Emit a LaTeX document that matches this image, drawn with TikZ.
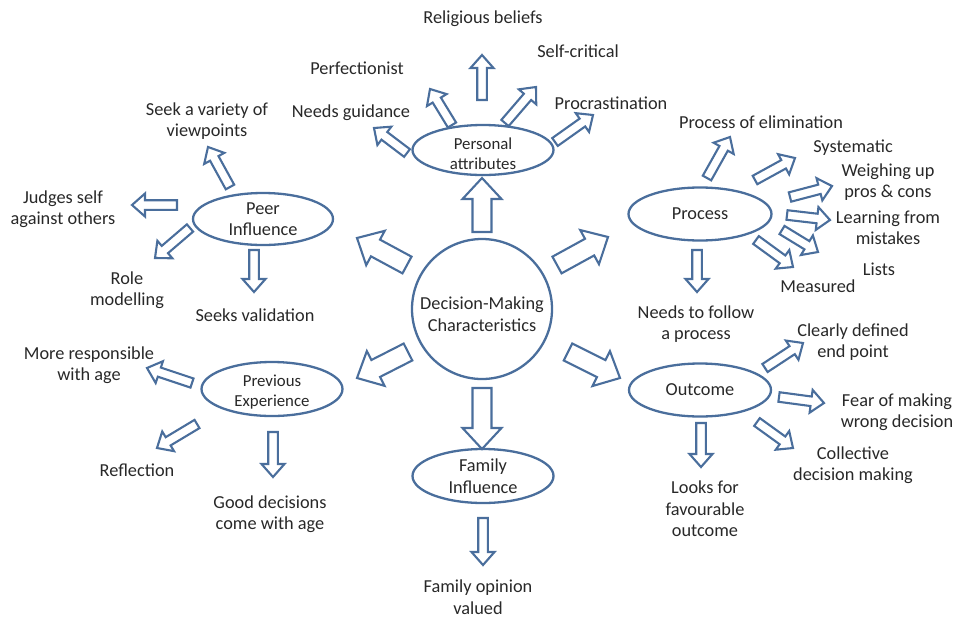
\documentclass[tikz,border=0pt]{standalone}
\usepackage{fontspec}
\setmainfont{Carlito}
\usetikzlibrary{shapes.geometric,calc}
\definecolor{edge}{RGB}{74,110,156}
\definecolor{ink}{RGB}{40,40,40}
\tikzset{
  txt/.style={text=ink, align=center, font=\fontsize{18.3}{21.5}\selectfont, inner sep=0pt},
  txtsm/.style={text=ink, align=center, font=\fontsize{16.8}{20}\selectfont, inner sep=0pt},
  oval/.style={ellipse, draw=edge, line width=2.3pt, inner sep=0pt},
  hub/.style={circle, draw=edge, line width=2.3pt, minimum size=140pt, inner sep=0pt},
  blk/.style={draw=edge, line width=2.1pt, fill=white, line join=miter},
}
% hollow block arrow: tail, tip, half shaft width, half head width, head length
\newcommand{\blockarrow}[5]{%
  \draw[blk] ($(#1)!#3!90:(#2)$)
    -- ($(#2)!#5!(#1)!#3!-90:(#1)$)
    -- ($(#2)!#5!(#1)!#4!-90:(#1)$)
    -- (#2)
    -- ($(#2)!#5!(#1)!#4!90:(#1)$)
    -- ($(#2)!#5!(#1)!#3!90:(#1)$)
    -- ($(#1)!#3!-90:(#2)$) -- cycle;}
\newcommand{\bigarrow}[2]{\blockarrow{#1}{#2}{9.5pt}{19.5pt}{21pt}}
\newcommand{\smallarrow}[2]{\blockarrow{#1}{#2}{4.8pt}{11.5pt}{13pt}}

\begin{document}
\begin{tikzpicture}[x=1pt,y=-1pt]
\useasboundingbox (0,0) rectangle (956,619);

% hub and category ovals
\node[hub] (hub) at (482,309) {};
\node[txt] (hub-t) at (482,314) {Decision-Making\\Characteristics};

\node[oval, minimum width=141pt, minimum height=50pt] (pa) at (483,150) {};
\node[txtsm] (pa-t) at (483,154) {Personal\\attributes};

\node[oval, minimum width=140pt, minimum height=52pt] (peer) at (263,219) {};
\node[txt] (peer-t) at (peer) {Peer\\Influence};

\node[oval, minimum width=143pt, minimum height=53pt] (proc) at (700,214) {};
\node[txt] (proc-t) at (proc) {Process};

\node[oval, minimum width=142pt, minimum height=53pt] (outc) at (700,390) {};
\node[txt] (outc-t) at (outc) {Outcome};

\node[oval, minimum width=141pt, minimum height=54pt] (prev) at (272,389) {};
\node[txtsm] (prev-t) at (272,392) {Previous\\Experience};

\node[oval, minimum width=141pt, minimum height=54pt] (fam) at (483,476) {};
\node[txt] (fam-t) at (fam) {Family\\Influence};

% arrows from the hub
\bigarrow{482,232}{482,178}
\bigarrow{482,388}{482,449}
\bigarrow{407,265}{357,238}
\bigarrow{557,265}{608,237}
\bigarrow{408,352}{357,378}
\bigarrow{568,352}{620,378}

% personal attributes
\smallarrow{407,153}{374,128}
\smallarrow{452,125}{430,89}
\smallarrow{482,100}{482,55}
\smallarrow{505,123}{536,87}
\smallarrow{555,142}{593,115}
\node[txt] (rel) at (483,19) {Religious beliefs};
\node[txt] (selfc) at (578,51) {Self-critical};
\node[txt] (perf) at (357,68) {Perfectionist};
\node[txt] (guid) at (351,113) {Needs guidance};
\node[txt] (procr) at (611,103) {Procrastination};

% peer influence
\smallarrow{230,187}{208,147}
\smallarrow{177,205}{132,205}
\smallarrow{190,228}{155,258}
\smallarrow{254,250}{254,292}
\node[txt] (seek) at (207,121) {Seek a variety of\\viewpoints};
\node[txt] (judg) at (63,209) {Judges self\\against others};
\node[txt] (role) at (127,290) {Role\\modelling};
\node[txt] (valid) at (255,315) {Seeks validation};

% process
\smallarrow{707,178}{730,137}
\smallarrow{755,180}{795,158}
\smallarrow{790,197}{832,186}
\smallarrow{787,215}{830,220}
\smallarrow{782,230}{818,252}
\smallarrow{756,240}{793,267}
\smallarrow{697,250}{697,292}
\node[txt] (elim) at (761,122) {Process of elimination};
\node[txt] (syst) at (853,148) {Systematic};
\node[txt] (weigh) at (888,182) {Weighing up\\pros \& cons};
\node[txt] (learn) at (888,228) {Learning from\\mistakes};
\node[txt] (lists) at (879,269) {Lists};
\node[txt] (meas) at (818,286) {Measured};
\node[txt] (follow) at (696,324) {Needs to follow\\a process};

% outcome
\smallarrow{765,368}{803,343}
\smallarrow{779,397}{824,403}
\smallarrow{757,422}{793,448}
\smallarrow{701,423}{701,467}
\node[txt] (clear) at (853,342) {Clearly defined\\end point};
\node[txt] (fear) at (897,412) {Fear of making\\wrong decision};
\node[txt] (coll) at (853,465) {Collective\\decision making};
\node[txt] (looks) at (705,509) {Looks for\\favourable\\outcome};

% previous experience
\smallarrow{192,383}{147,368}
\smallarrow{197,424}{157,448}
\smallarrow{273,432}{273,477}
\node[txt] (more) at (89,365) {More responsible\\with age};
\node[txt] (refl) at (137,470) {Reflection};
\node[txt] (good) at (270,514) {Good decisions\\come with age};

% family influence
\smallarrow{483,518}{483,565}
\node[txt] (famop) at (478,597) {Family opinion\\valued};
\end{tikzpicture}
\end{document}
